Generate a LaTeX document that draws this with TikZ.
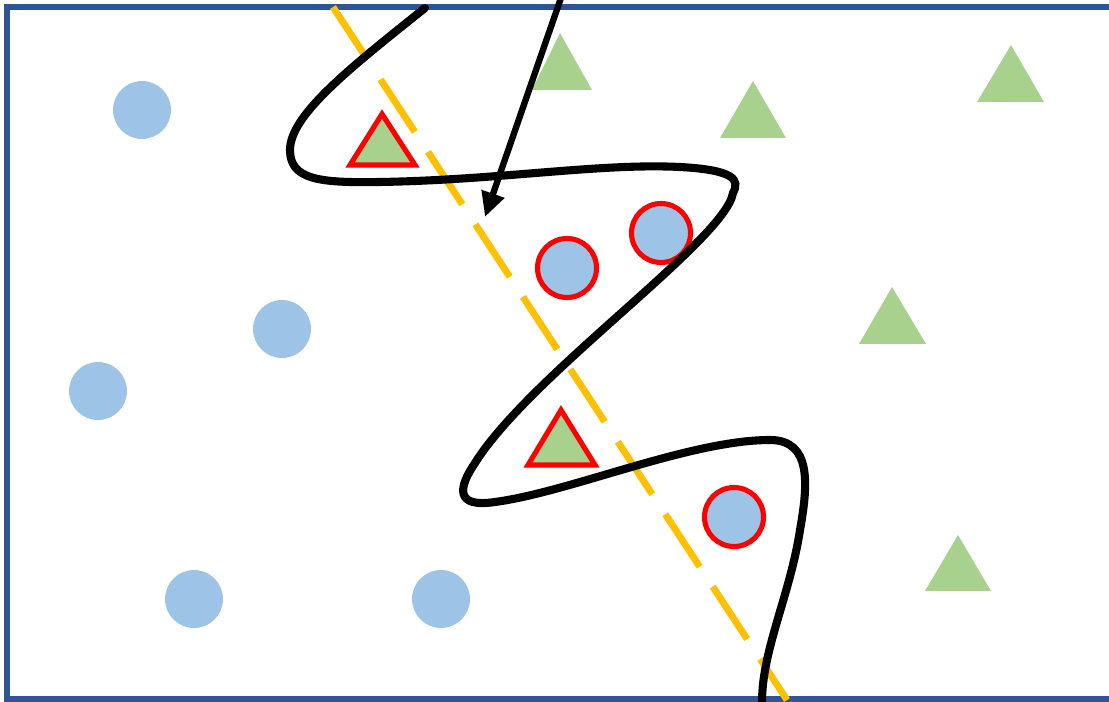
\documentclass[tikz,border=0pt]{standalone}
\usepackage{xcolor}
\usepackage{tikz}
\usetikzlibrary{arrows.meta}

\definecolor{frameblue}{HTML}{2F5597}
\definecolor{dotblue}{HTML}{9DC3E6}
\definecolor{trigreen}{HTML}{A9D18E}
\definecolor{lineyellow}{HTML}{FFC000}

\tikzset{
	bluedot/.style={circle, fill=dotblue, inner sep=0pt, minimum size=1.16cm},
	reddot/.style={bluedot, draw=red, line width=2.9pt, minimum size=1.18cm},
	greentri/.style={fill=trigreen},
	redtri/.style={fill=trigreen, draw=red, line width=2.9pt},
	boundary/.style={black, line width=4.6pt, line cap=round},
	splitline/.style={lineyellow, line width=3.9pt, dash pattern=on 35.7pt off 13.6pt}
}

\begin{document}
\begin{tikzpicture}[x=0.02cm, y=-0.02cm]
				\clip (0, 0) rectangle (1109, 702);
				% Frame:
				\draw[frameblue, line width=3pt] (7, 7) rectangle (1120, 699);
				% Dashed split line:
				\coordinate (s1) at (333, 7);
				\coordinate (s2) at (787, 700);
				\draw[splitline] (s1) -- (s2);
				% Circles:
				\node[bluedot] (b1) at (142, 110){};
				\node[bluedot] (b2) at (282, 329){};
				\node[bluedot] (b3) at (98, 391){};
				\node[bluedot] (b4) at (194, 599){};
				\node[bluedot] (b5) at (441, 599){};
				\node[reddot] (r1) at (567, 268){};
				\node[reddot] (r2) at (661, 233){};
				\node[reddot] (r3) at (734, 517){};
				% Triangles:
				\fill[greentri] (560, 33) -- (532, 90) -- (592, 90) -- cycle;
				\fill[greentri] (753, 81) -- (720, 138) -- (786, 138) -- cycle;
				\fill[greentri] (1011, 45) -- (977, 102) -- (1044, 102) -- cycle;
				\fill[greentri] (892, 287) -- (859, 344) -- (926, 344) -- cycle;
				\fill[greentri] (958, 535) -- (925, 591) -- (991, 591) -- cycle;
				\draw[redtri] (382, 114) -- (350, 165) -- (415, 165) -- cycle;
				\draw[redtri] (561, 410) -- (528, 465) -- (595, 465) -- cycle;
				% Wavy boundary:
				\coordinate (w0) at (425, 8);
				\coordinate (w1) at (290, 150);
				\coordinate (w2) at (380, 182);
				\coordinate (w3) at (733, 193);
				\coordinate (w4) at (462, 493);
				\coordinate (w5) at (770, 440);
				\coordinate (w6) at (762, 702);
				\draw[boundary] (w0) .. controls (350, 68) and (290, 115) .. (w1)
					.. controls (290, 180) and (320, 183) .. (w2)
					.. controls (500, 180) and (600, 163) .. (680, 167)
					.. controls (735, 170) and (740, 180) .. (w3)
					.. controls (725, 240) and (530, 375) .. (475, 463)
					.. controls (458, 488) and (455, 508) .. (495, 502)
					.. controls (570, 492) and (690, 440) .. (w5)
					.. controls (812, 440) and (808, 485) .. (800, 530)
					.. controls (790, 595) and (762, 650) .. (w6);
				% Arrow:
				\coordinate (a0) at (562, -5);
				\coordinate (a1) at (485, 217);
				\draw[line width=3.6pt, -{Triangle[length=14pt, width=13pt]}] (a0) -- (a1);
			\end{tikzpicture}
\end{document}
